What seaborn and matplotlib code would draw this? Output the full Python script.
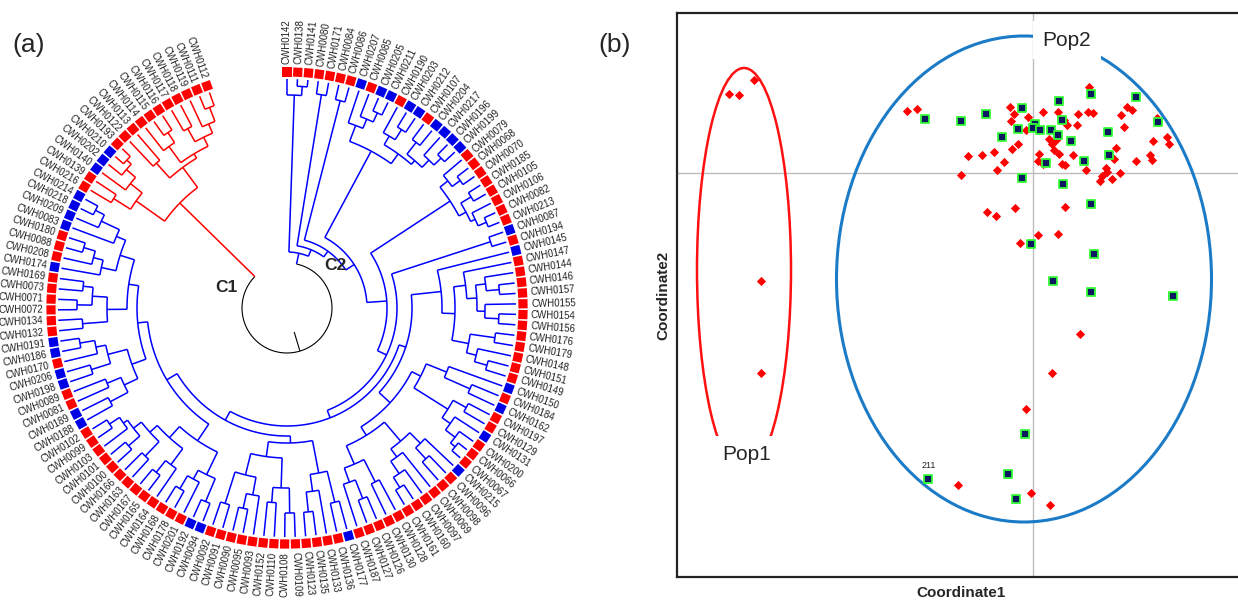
import numpy as np
import matplotlib
matplotlib.use('Agg')
import matplotlib.pyplot as plt
import seaborn as sns
from matplotlib.patches import Ellipse, Polygon

sns.set_style('white')
plt.rcParams['font.family'] = ['Liberation Sans', 'DejaVu Sans']

# ---------------- (a) circular dendrogram ----------------
# leaves clockwise from the top
leaf_ids = ['0142', '0138', '0141', '0080', '0171', '0084', '0086', '0207', '0085', '0205',
            '0211', '0190', '0203', '0212', '0107', '0204', '0217', '0196', '0199', '0079',
            '0068', '0070', '0185', '0105', '0106', '0082', '0213', '0087', '0194', '0145',
            '0147', '0144', '0146', '0157', '0155', '0154', '0156', '0176', '0179', '0148',
            '0151', '0149', '0150', '0184', '0162', '0197', '0129', '0131', '0200', '0066',
            '0067', '0215', '0096', '0098', '0069', '0097', '0160', '0161', '0128', '0130',
            '0126', '0127', '0187', '0177', '0136', '0133', '0135', '0123', '0109', '0108',
            '0110', '0152', '0093', '0095', '0090', '0091', '0092', '0094', '0192', '0201',
            '0178', '0168', '0164', '0165', '0167', '0163', '0166', '0100', '0101', '0103',
            '0099', '0102', '0188', '0189', '0081', '0089', '0198', '0206', '0170', '0186',
            '0191', '0132', '0134', '0072', '0071', '0073', '0169', '0174', '0208', '0088',
            '0180', '0083', '0209', '0218', '0214', '0216', '0139', '0140', '0202', '0210',
            '0193', '0122', '0113', '0114', '0115', '0116', '0117', '0118', '0119', '0111', '0112']
# R = red square, B = blue square
leaf_groups = ('RRRRRRRBRB BRBBRBBBBR RRRRRRRBRB RRRRRRRRRR RRBRBRRBRR RBRRRRRRRR '
               'RRRBRRRRRR RRRRRRRBBR RRRRRRRRRR RRBBRRBBRB BRRRRRRBRR RBBBBRRBBB '
               'RRRRRRRRRRR').replace(' ', '')

# tree: (node radius, [children]), leaves by id
G1 = (213, ['0142', (222, ['0138', '0141'])])
G2 = (216, ['0080', '0171'])
G3 = (214, ['0084', '0086'])
G4 = (178, [(195, ['0207', (205, ['0085', (215, ['0205', '0211'])])]),
            (190, [(200, ['0190', (212, ['0203', '0212'])]),
                   (195, [(210, ['0107', '0204']), (205, ['0217', (215, ['0196', '0199'])])])])])
G5 = (195, [(205, ['0079', (215, ['0068', '0070'])]),
            (203, [(215, ['0185', '0105']), (208, ['0106', (217, ['0082', '0213'])])])])
G6 = (214, ['0087', '0194'])
R1 = (155, ['0145', (168, [(180, ['0147', (190, [(200, ['0144', (213, ['0146', '0157'])]),
                                                  (198, ['0155', (212, ['0154', '0156'])])])]),
                           (185, [(210, ['0176', '0179']), (195, ['0148', (208, ['0151', '0149'])])])])])
R2a = (150, [(172, ['0150', (200, ['0184', '0162'])]),
             (190, [(205, ['0197', '0129']), (200, ['0131', (212, ['0200', (218, ['0066', '0067'])])])])])
R2b = (150, [(175, [(190, ['0215', (205, ['0096', '0098'])]),
                    (185, ['0069', (200, ['0097', (212, ['0160', '0161'])])])]),
             (170, [(195, ['0128', '0130']), (185, [(205, ['0126', '0127']), '0187'])])])
R = (125, [R1, (140, [R2a, R2b])])
L1a = (168, [(200, ['0177', '0136']), (185, ['0133', (205, ['0135', '0123'])])])
L1b = (150, [(180, [(205, ['0109', '0108']), (195, ['0110', '0152'])]),
             (172, [(190, ['0093', (205, ['0095', '0090'])]), (205, ['0091', '0092'])])])
L2a = (160, [(185, [(210, ['0094', '0192']), (195, ['0201', (210, ['0178', '0168'])])]),
             (175, [(195, ['0164', (210, ['0165', '0167'])]),
                    (185, [(205, ['0163', '0166']),
                           (195, [(210, ['0100', '0101']), (200, ['0103', (212, ['0099', '0102'])])])])])])
L2b1 = (165, [(180, [(200, ['0188', '0189']), (195, ['0081', '0089'])]),
              (185, [(205, ['0198', '0206']), (195, ['0170', (210, ['0186', '0191'])])])])
L2b2 = (160, [(180, [(205, ['0132', '0134']), (195, [(210, ['0072', '0071']), (205, ['0073', '0169'])])]),
              (175, [(190, ['0174', (200, ['0208', (212, ['0088', '0180'])])]),
                     (185, ['0083', (205, ['0209', (215, ['0218', '0214'])])])])])
L = (128, [(135, [L1a, L1b]), (140, [L2a, (150, [L2b1, L2b2])])])
C2 = (56, [G1, (63, [G2, (70, [G3, (80, [G4, (100, [G5, (110, [G6, (118, [R, L])])])])])])])
C1 = (150, [(185, [(205, ['0216', '0139']), (200, ['0140', (212, ['0202', (218, ['0210', '0193'])])])]),
            (175, [(195, ['0122', '0113']),
                   (180, [(200, ['0114', (212, ['0115', '0116'])]),
                          (190, [(205, ['0117', '0118']), (200, ['0119', (215, ['0111', '0112'])])])])])])
ROOT_R = 45

W, H = 1238, 603
CX, CY = 287, 308
TIP, SQ_R, LAB_R = 229, 236, 244
span = 340.2
theta = {lid: i * span / (len(leaf_ids) - 1) for i, lid in enumerate(leaf_ids)}
RED, BLUE = '#ff0000', '#0000ff'

fig = plt.figure(figsize=(W / 100, H / 100), dpi=100)
ax1 = fig.add_axes([0, 0, 600 / W, 1])
ax1.set_xlim(0, 600)
ax1.set_ylim(H, 0)
ax1.axis('off')


def xy(r, th):
    t = np.radians(th)
    return CX + r * np.sin(t), CY - r * np.cos(t)


def arc(r, a, b, color, lw=1.1):
    th = np.linspace(a, b, int(abs(b - a) * 2) + 2)
    x, y = xy(r, th)
    ax1.plot(x, y, color=color, lw=lw, solid_capstyle='butt')


def radial(th, r0, r1, color, lw=1.1):
    x, y = xy(np.array([r0, r1]), th)
    ax1.plot(x, y, color=color, lw=lw, solid_capstyle='butt')


def draw(node, color):
    if isinstance(node, str):
        return theta[node], TIP
    r, kids = node
    pos = [draw(k, color) for k in kids]
    ths = [p[0] for p in pos]
    arc(r, ths[0], ths[-1], color)
    for th, rc in pos:
        radial(th, r, rc, color)
    return (ths[0] + ths[-1]) / 2, r


th2, r2 = draw(C2, BLUE)
th1, r1 = draw(C1, RED)
arc(ROOT_R, th2, th1, 'black', lw=0.8)
radial(th2, ROOT_R, r2, BLUE)
radial(th1, ROOT_R, r1, RED)
root_th = (th1 + th2) / 2
radial(root_th, 25, ROOT_R, 'black', lw=0.8)

h = 4.6
for lid, g in zip(leaf_ids, leaf_groups):
    th = theta[lid]
    t = np.radians(th)
    cx, cy = xy(SQ_R, th)
    u = np.array([np.sin(t), -np.cos(t)])
    v = np.array([np.cos(t), np.sin(t)])
    c = np.array([cx, cy])
    pts = [c + h * (su * u + sv * v) for su, sv in [(-1, -1), (1, -1), (1, 1), (-1, 1)]]
    ax1.add_patch(Polygon(pts, closed=True, fc=RED if g == 'R' else '#0000e6', ec='none'))
    lx, ly = xy(LAB_R, th)
    if th < 180:
        rot, ha = 90 - th, 'left'
    else:
        rot, ha = 270 - th, 'right'
    ax1.text(lx, ly, 'CWH' + lid, rotation=rot, rotation_mode='anchor',
             ha=ha, va='center', fontsize=7, color='#222222')

ax1.text(226, 288, 'C1', ha='center', va='center', fontsize=12.5, fontweight='bold')
ax1.text(335, 265, 'C2', ha='center', va='center', fontsize=12.5, fontweight='bold')
ax1.text(12, 45, '(a)', ha='left', va='center', fontsize=19)
fig.text(598 / W, 1 - 45 / H, '(b)', ha='left', va='center', fontsize=19)

# ---------------- (b) PCoA scatter ----------------
pop1_x = [-3.04, -2.94, -2.79, -2.72, -2.72]
pop1_y = [0.79, 0.78, 0.93, -1.08, -2.00]
red_x = [-1.26, -1.16, -0.23, -0.19, -0.22, -0.05, -0.07, 0.10, 0.25, 0.31,
         0.34, 0.44, 0.45, 0.56, 0.55, 0.60, 0.88, 0.94, 0.99, 0.91,
         1.24, 1.34, 1.36, 1.20, 0.83, 0.81, 0.73, 0.74, 0.67, 0.69,
         0.79, 0.87, 1.03, 1.17, 1.19, 0.53, 0.40, 0.26, 0.29, 0.32,
         0.21, 0.16, 0.23, 0.19, 0.06, 0.05, 0.10, -0.15, -0.21, -0.29,
         -0.36, -0.39, -0.51, -0.65, -0.72, -0.46, -0.37, -0.18, 0.32, -0.13,
         0.05, 0.25, 0.47, 0.19, -0.07, -0.75, -0.02, 0.17]
red_y = [0.62, 0.64, 0.66, 0.59, 0.52, 0.56, 0.43, 0.61, 0.61, 0.53,
         0.48, 0.48, 0.59, 0.86, 0.61, 0.60, 0.58, 0.66, 0.63, 0.46,
         0.55, 0.36, 0.29, 0.32, 0.25, 0.14, 0.05, 0.01, -0.08, -0.03,
         -0.06, 0.00, 0.12, 0.18, 0.13, 0.03, 0.18, 0.19, 0.09, 0.08,
         0.23, 0.34, 0.33, 0.29, 0.19, 0.12, 0.09, 0.29, 0.24, 0.11,
         0.03, 0.21, 0.18, 0.17, -0.02, -0.39, -0.43, -0.35, -0.34, -0.70,
         -0.62, -0.61, -1.61, -2.00, -2.36, -3.12, -3.20, -3.32]
green_x = [-1.08, -0.72, -0.47, -0.11, -0.31, -0.15, 0.02, 0.00, 0.07, 0.18,
           0.25, 0.26, 0.29, 0.38, 0.58, 1.03, 0.75, 1.25, 0.76, 0.51,
           0.13, -0.11, 0.30, 0.58, -0.02, 0.61, 0.20, 0.58, 1.40, -0.08,
           -0.25, -0.17, -1.05]
green_y = [0.54, 0.52, 0.59, 0.65, 0.36, 0.44, 0.49, 0.45, 0.43, 0.43,
           0.38, 0.72, 0.53, 0.32, 0.79, 0.76, 0.41, 0.51, 0.18, 0.12,
           0.10, -0.05, -0.11, -0.31, -0.71, -0.81, -1.08, -1.19, -1.23, -2.61,
           -3.01, -3.26, -3.06]

ax2 = fig.add_axes([677 / W, (H - 577) / H, (W - 677) / W, 564 / H])
ax2.set_xlim(-3.56, 2.05)
ax2.set_ylim(-4.04, 1.60)
ax2.axhline(0, color='#bdbdbd', lw=1, zorder=0)
ax2.axvline(0, color='#bdbdbd', lw=1, zorder=0)
ax2.add_patch(Ellipse((-0.09, -1.06), 3.75, 4.86, fill=False, ec='#1b7bc6', lw=2.2))
ax2.add_patch(Ellipse((-2.89, -0.97), 0.94, 4.04, fill=False, ec='#ff1010', lw=1.8))
sns.scatterplot(x=pop1_x + red_x, y=pop1_y + red_y, marker='D', color='#ff0000',
                s=22, linewidth=0, ax=ax2, zorder=3)
sns.scatterplot(x=green_x, y=green_y, marker='s', color='#0b1a5e', edgecolor='#33ff33',
                linewidth=1.3, s=36, ax=ax2, zorder=3)
ax2.text(0.34, 1.33, 'Pop2', ha='center', va='center', fontsize=15, zorder=4,
         bbox=dict(boxstyle='square,pad=0.45', fc='white', ec='none'))
ax2.text(-2.86, -2.82, 'Pop1', ha='center', va='center', fontsize=15, zorder=4,
         bbox=dict(boxstyle='square,pad=0.45', fc='white', ec='none'))
ax2.text(-1.04, -2.92, '211', ha='center', va='center', fontsize=6.5)

ax2.set_xticks([])
ax2.set_yticks([])
for side in ['left', 'bottom', 'top']:
    ax2.spines[side].set_color('#222222')
    ax2.spines[side].set_linewidth(1.6)
ax2.spines['right'].set_visible(False)
ax2.set_xlabel('Coordinate1', fontsize=11, fontweight='bold')
ax2.set_ylabel('Coordinate2', fontsize=11, fontweight='bold')
ax2.xaxis.set_label_coords(0.507, -0.016)
ax2.yaxis.set_label_coords(-0.011, 0.5)

fig.savefig('out.png', dpi=100)
